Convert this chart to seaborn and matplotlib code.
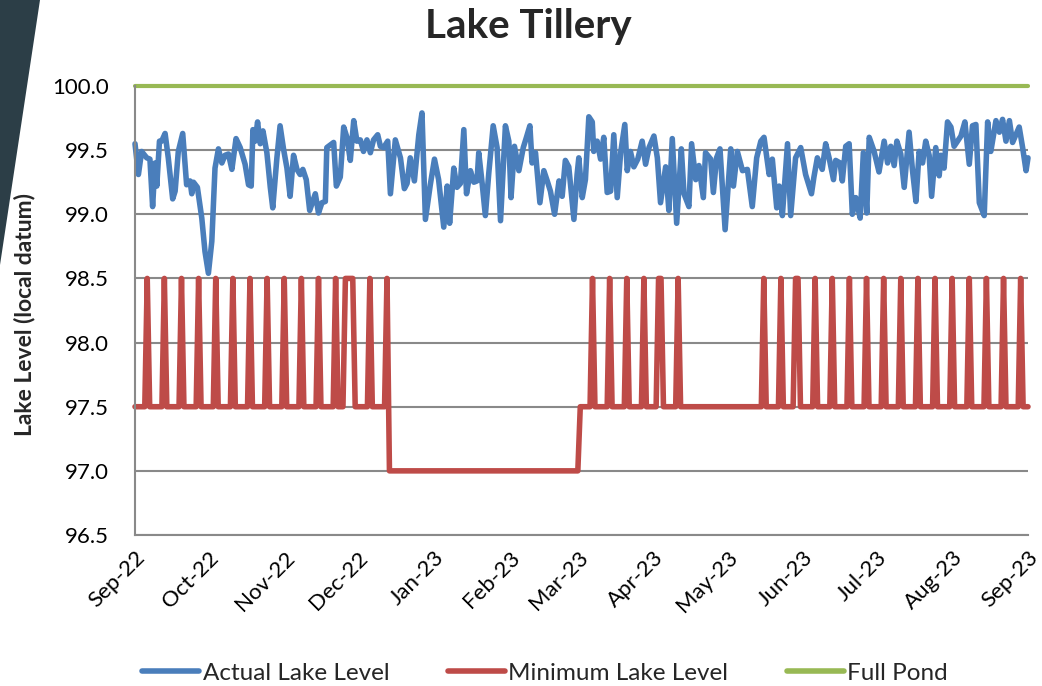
import numpy as np
import pandas as pd
import seaborn as sns
import matplotlib.pyplot as plt
import matplotlib.dates as mdates
from matplotlib.patches import Polygon

# Lake Tillery - niveau du lac, Sep-22 a Sep-23

start = pd.Timestamp('2022-09-01')

# niveau mesure (jour depuis le 1er sept., niveau)
actual_day = [
    0, 1.4, 2.7, 4.8, 6.1, 7.2, 8.2, 8.9, 10.0, 10.9, 12.3, 13.6, 15.4, 16.4, 17.7, 19.5,
    21.1, 22.5, 23.2, 23.9, 25.5, 27.3, 28.6, 30.0, 31.4, 32.7, 34.1, 35.5, 36.8, 38.2, 39.6,
    41.3, 43.0, 45.0, 46.4, 47.5, 48.2, 49.1, 50.1, 51.2, 52.3, 53.9, 55.3, 56.3, 58.0, 59.3,
    60.7, 62.1, 63.4, 64.8, 66.2, 67.5, 68.6, 70.0, 71.4, 72.3, 73.7, 75.0, 76.4, 77.8, 78.4,
    81.2, 82.3, 83.9, 85.3, 86.6, 88.0, 89.4, 90.7, 92.1, 93.4, 94.8, 96.2, 97.5, 99.2, 100.3,
    101.6, 103.3, 104.4, 106.4, 108.5, 110.1, 111.2, 112.5, 114.2, 116.0, 117.3, 118.7, 120.7,
    122.4, 124.1, 126.2, 127.6, 128.6, 130.3, 131.6, 133.0, 134.4, 135.5, 137.1, 138.5, 139.8,
    140.5, 141.9, 143.2, 144.6, 146.4, 148.0, 149.4, 151.4, 152.8, 153.7, 155.1, 156.9, 158.7,
    160.0, 161.4, 162.3, 163.7, 165.5, 167.1, 168.5, 169.8, 171.5, 173.3, 174.6, 175.9, 177.3,
    179.4, 180.7, 181.4, 182.8, 184.1, 185.5, 186.9, 187.5, 188.9, 190.3, 191.6, 193.0, 194.4,
    195.7, 197.1, 198.5, 200.2, 201.2, 202.5, 203.9, 205.5, 207.3, 208.7, 210.1, 212.1, 213.5,
    214.8, 216.9, 218.2, 219.6, 221.4, 223.3, 224.4, 226.4, 227.5, 229.2, 230.5, 232.3, 233.2,
    235.3, 236.4, 237.7, 239.1, 241.2, 243.5, 244.6, 246.2, 248.3, 250.3, 252.3, 254.1, 255.8,
    257.1, 259.2, 260.5, 262.3, 263.3, 264.6, 266.7, 268.0, 270.0, 272.1, 274.1, 276.5, 277.5,
    278.9, 280.9, 282.3, 283.7, 285.5, 286.4, 288.2, 289.1, 290.5, 291.9, 293.2, 294.6, 296.4,
    297.7, 299.1, 300.1, 302.1, 304.1, 306.2, 307.6, 308.9, 310.3, 311.4, 313.0, 314.4, 316.4,
    317.8, 319.2, 320.5, 321.9, 323.2, 324.6, 325.6, 327.3, 328.7, 329.4, 330.7, 332.1, 333.5,
    334.8, 336.2, 337.6, 339.2, 341.0, 342.3, 343.7, 345.1, 347.1, 348.5, 349.8, 351.9, 353.3,
    354.6, 356.0, 357.4, 358.7, 361.4, 362.8, 364.2, 365.0,
]
actual_level = [
    99.55, 99.31, 99.49, 99.44, 99.43, 99.06, 99.40, 99.22, 99.57, 99.57, 99.63, 99.44, 99.12, 99.18, 99.49, 99.63,
    99.23, 99.26, 99.16, 99.25, 99.21, 98.97, 98.71, 98.54, 98.79, 99.36, 99.51, 99.40, 99.46, 99.47, 99.35,
    99.59, 99.52, 99.39, 99.23, 99.22, 99.66, 99.57, 99.72, 99.55, 99.65, 99.48, 99.21, 99.05, 99.44, 99.69,
    99.51, 99.36, 99.14, 99.46, 99.35, 99.31, 99.35, 99.27, 99.03, 99.08, 99.16, 99.01, 99.09, 99.10, 99.52,
    99.56, 99.22, 99.29, 99.68, 99.60, 99.42, 99.73, 99.57, 99.58, 99.49, 99.58, 99.48, 99.58, 99.62, 99.53,
    99.52, 99.57, 99.16, 99.58, 99.44, 99.20, 99.24, 99.44, 99.26, 99.62, 99.79, 98.96, 99.23,
    99.43, 99.27, 98.90, 99.22, 98.93, 99.36, 99.21, 99.24, 99.66, 99.16, 99.34, 99.25, 99.26,
    99.48, 99.24, 98.99, 99.32, 99.69, 99.52, 98.95, 99.69, 99.57, 99.13, 99.53, 99.34, 99.52,
    99.60, 99.69, 99.40, 99.48, 99.09, 99.34, 99.26, 99.18, 99.00, 99.26, 99.14, 99.42, 99.37,
    98.96, 99.31, 99.44, 99.13, 99.27, 99.76, 99.72, 99.49, 99.57, 99.43, 99.60, 99.17, 99.18,
    99.62, 99.13, 99.48, 99.70, 99.34, 99.49, 99.37, 99.43, 99.57, 99.39, 99.52, 99.61, 99.44,
    99.09, 99.37, 99.03, 99.59, 98.93, 99.51, 99.16, 99.06, 99.55, 99.27, 99.38, 99.13, 99.48,
    99.43, 99.17, 99.44, 99.51, 98.88, 99.51, 99.22, 99.49, 99.34, 99.35, 99.06, 99.44, 99.57,
    99.60, 99.31, 99.43, 99.05, 99.22, 98.99, 99.55, 98.99, 99.44, 99.52, 99.31, 99.16, 99.29,
    99.44, 99.35, 99.55, 99.44, 99.27, 99.42, 99.40, 99.26, 99.53, 99.55, 99.00, 99.13, 98.97,
    99.48, 99.01, 99.60, 99.49, 99.33, 99.57, 99.40, 99.53, 99.38, 99.57, 99.47, 99.21, 99.64,
    99.34, 99.10, 99.49, 99.40, 99.57, 99.46, 99.14, 99.52, 99.30, 99.46, 99.36, 99.72, 99.68,
    99.53, 99.57, 99.61, 99.72, 99.39, 99.69, 99.70, 99.09, 98.99, 99.72, 99.49, 99.73, 99.64,
    99.74, 99.57, 99.73, 99.56, 99.68, 99.52, 99.34, 99.44,
]

# niveau minimum : 97.5, 98.5 les jours de pointe, 97.0 en hiver
min_high_days = [5, 12, 19, 26, 33, 40, 47, 54, 61, 68, 75, 82, 86, 87, 88, 89, 96, 103,
                 187, 194, 201, 208, 214, 215, 222,
                 257, 264, 270, 271, 278, 285, 292, 299, 306, 313, 320, 327, 334, 341,
                 348, 355, 362]
winter_first, winter_last = 104, 181
min_base, min_high, min_winter = 97.5, 98.5, 97.0
full_pond = 100.0

series_names = ['Actual Lake Level', 'Minimum Lake Level', 'Full Pond']
series_colors = ['#4A7EBB', '#BE4B48', '#98B954']

days = np.arange(0, 366)
min_level = np.where((days >= winter_first) & (days <= winter_last), min_winter, min_base)
min_level[np.isin(days, min_high_days)] = min_high

df_actual = pd.DataFrame({'date': start + pd.to_timedelta(actual_day, unit='D'),
                          'level': actual_level, 'series': series_names[0]})
df_min = pd.DataFrame({'date': start + pd.to_timedelta(days, unit='D'),
                       'level': min_level, 'series': series_names[1]})
df_full = pd.DataFrame({'date': [start, start + pd.Timedelta(days=365)],
                        'level': [full_pond, full_pond], 'series': series_names[2]})
data = pd.concat([df_actual, df_min, df_full], ignore_index=True)

sns.set_style('white')
plt.rcParams['font.family'] = ['Lato', 'DejaVu Sans']

fig = plt.figure(figsize=(10.42, 6.86), dpi=100)
ax = fig.add_axes([135 / 1042, 1 - 535 / 686, 893 / 1042, 449 / 686])

sns.lineplot(data=data, x='date', y='level', hue='series', hue_order=series_names,
             palette=series_colors, estimator=None, linewidth=4.0, ax=ax)
for ln in ax.lines:
    ln.set_clip_on(False)
    ln.set_solid_joinstyle('round')
ax.lines[2].set_linewidth(3.0)

ax.set_xlim(start, start + pd.Timedelta(days=365))
ax.set_ylim(96.5, 100.0)
ax.set_yticks(np.arange(96.5, 100.01, 0.5))
ax.yaxis.set_major_formatter(plt.FormatStrFormatter('%.1f'))
ax.xaxis.set_major_locator(mdates.MonthLocator())
ax.xaxis.set_major_formatter(mdates.DateFormatter('%b-%y'))

ax.grid(axis='y', color='#898989', linewidth=1.5)
ax.set_axisbelow(True)
for s in ['top', 'right']:
    ax.spines[s].set_visible(False)
for s in ['left', 'bottom']:
    ax.spines[s].set_color('#898989')
    ax.spines[s].set_linewidth(1.5)

ax.tick_params(axis='both', direction='out', length=6, width=1.5, color='#898989',
               labelsize=16, labelcolor='black')
ax.tick_params(axis='y', pad=13)
ax.tick_params(axis='x', pad=3)
plt.setp(ax.get_xticklabels(), rotation=45, ha='right', va='top', rotation_mode='anchor')

ax.set_xlabel('')
ax.set_ylabel('Lake Level (local datum)', fontsize=16.5, fontweight='bold')
ax.yaxis.set_label_coords(-0.112, 0.49)

fig.text(528 / 1042, 1 - 38 / 686, 'Lake Tillery', fontsize=29, fontweight='bold',
         ha='center', va='baseline')

handles, labels = ax.get_legend_handles_labels()
ax.get_legend().remove()
leg = fig.legend(handles, labels, loc='center', bbox_to_anchor=(545 / 1042, 1 - 673 / 686),
                 ncol=3, frameon=False, fontsize=17.5, handlelength=2.35, handletextpad=0.15,
                 columnspacing=2.4)
for h in leg.get_lines():
    h.set_linewidth(4.0)

# bandeau sombre en haut a gauche
fig.patches.append(Polygon([[0, 1], [40 / 1042, 1], [0, 1 - 265 / 686]], closed=True,
                           transform=fig.transFigure, facecolor='#2C3E47', edgecolor='none'))

plt.savefig('out.png', dpi=100)
